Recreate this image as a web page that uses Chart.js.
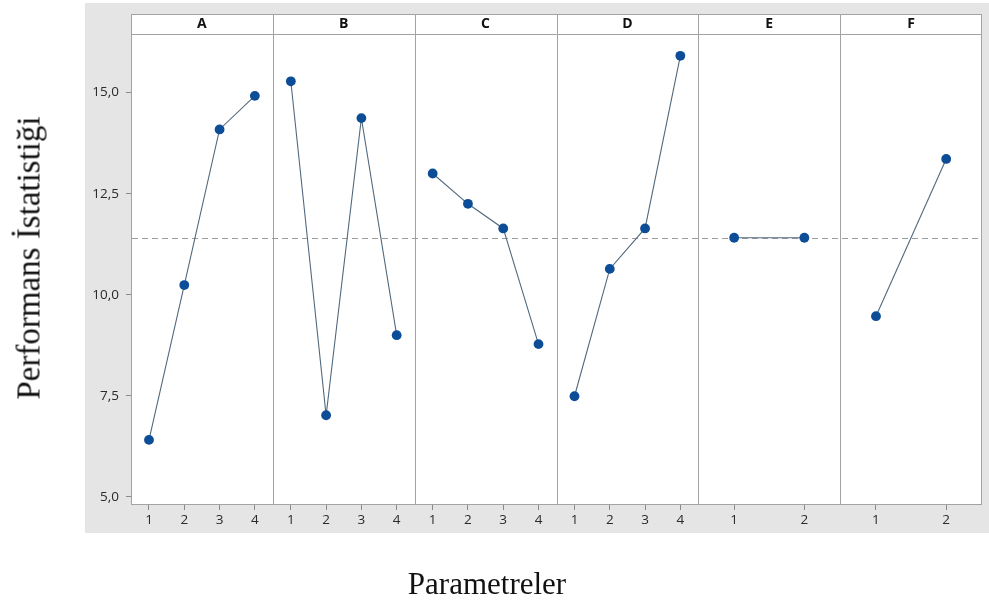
<!DOCTYPE html>
<html>
<head>
<meta charset="utf-8">
<script src="https://cdn.jsdelivr.net/npm/chart.js@4/dist/chart.umd.min.js"></script>
<style>
  html, body { margin: 0; padding: 0; background: #fff; width: 989px; height: 604px; overflow: hidden; }
  #wrap { position: relative; width: 989px; height: 604px; }
  #c { position: absolute; left: 0; top: 0; }
  .title { position: absolute; font-family: "Liberation Serif", "DejaVu Serif", serif; color: #111; white-space: nowrap; line-height: 1; }
  #xTitle { left: 487px; top: 568px; font-size: 31px; transform: translateX(-50%); }
  #yTitle { left: 29px; top: 258px; font-size: 33px; transform: translate(-50%, -50%) rotate(-90deg); }
</style>
</head>
<body>
<div id="wrap">
  <canvas id="c" width="989" height="604"></canvas>
  <div class="title" id="xTitle">Parametreler</div>
  <div class="title" id="yTitle">Performans İstatistiği</div>
</div>
<script>
// Factor names shown in the panel headers
const factors = ['A', 'B', 'C', 'D', 'E', 'F'];

// Factor levels (x positions inside each panel)
const levels4 = [1, 2, 3, 4];
const levels2 = [1, 2];

// Mean performance statistic per level
const meansA = [6.41, 10.24, 14.09, 14.92];
const meansB = [15.28, 7.02, 14.37, 9.00];
const meansC = [13.00, 12.25, 11.64, 8.78];
const meansD = [7.49, 10.64, 11.64, 15.91];
const meansE = [11.41, 11.41];
const meansF = [9.47, 13.36];

// Overall mean (dashed reference line)
const grandMean = 11.41;

// Y axis tick values
const yTicks = [5, 7.5, 10, 12.5, 15];

const panelLevels = [levels4, levels4, levels4, levels4, levels2, levels2];
const panelMeans = [meansA, meansB, meansC, meansD, meansE, meansF];

const tickFont = { family: '"Open Sans", "Noto Sans", sans-serif', size: 13.5 };
const tickColor = '#2a2a2a';
const frameColor = '#a3a3a3';

const datasets = factors.map((f, i) => ({
  label: f,
  xAxisID: 'x' + i,
  yAxisID: 'y',
  data: panelLevels[i].map((lv, j) => ({ x: lv, y: panelMeans[i][j] })),
  borderColor: '#52697d',
  borderWidth: 1.1,
  pointRadius: 4.9,
  pointHoverRadius: 4.9,
  pointBackgroundColor: '#0d4d97',
  pointBorderWidth: 0,
  tension: 0,
  fill: false
}));

const scales = {
  y: {
    type: 'linear',
    position: 'left',
    min: 4.8,
    max: 16.45,
    afterBuildTicks: s => { s.ticks = yTicks.map(v => ({ value: v })); },
    afterFit: s => { s.width = 131; },
    ticks: {
      font: tickFont,
      color: tickColor,
      padding: 7,
      callback: v => v.toFixed(1).replace('.', ',')
    },
    grid: { drawOnChartArea: false, drawTicks: true, tickLength: 5, color: '#8a8a8a' },
    border: { display: false }
  }
};

factors.forEach((f, i) => {
  const lv = panelLevels[i];
  scales['x' + i] = {
    type: 'linear',
    position: 'bottom',
    stack: 'panels',
    stackWeight: 1,
    min: lv[0] - 0.51,
    max: lv[lv.length - 1] + 0.51,
    afterBuildTicks: s => { s.ticks = lv.map(v => ({ value: v })); },
    afterFit: s => { s.height = 99; },
    ticks: {
      font: tickFont,
      color: tickColor,
      padding: 2,
      maxRotation: 0,
      minRotation: 0,
      autoSkip: false,
      callback: v => String(v)
    },
    grid: { drawOnChartArea: false, drawTicks: true, tickLength: 5, color: '#8a8a8a' },
    border: { display: false }
  };
});

// Grey backdrop, white panels, header strip, dividers and the overall-mean line
const panelFrame = {
  id: 'panelFrame',
  beforeDraw(chart) {
    const { ctx, chartArea: a } = chart;
    const headTop = a.top - 20;
    ctx.save();
    ctx.fillStyle = '#fff';
    ctx.fillRect(0, 0, chart.width, chart.height);
    ctx.fillStyle = '#e5e5e5';
    ctx.fillRect(85, 3, chart.width - 85, 530);
    ctx.fillStyle = '#fff';
    ctx.fillRect(a.left, headTop, a.right - a.left, a.bottom - headTop);
    ctx.restore();
  },
  beforeDatasetsDraw(chart) {
    const { ctx, chartArea: a } = chart;
    const headTop = a.top - 20;
    ctx.save();
    ctx.strokeStyle = frameColor;
    ctx.lineWidth = 1;
    // outer frame
    ctx.strokeRect(Math.round(a.left) + 0.5, Math.round(headTop) + 0.5,
      Math.round(a.right - a.left) - 1, Math.round(a.bottom - headTop) - 1);
    // header separator
    ctx.beginPath();
    ctx.moveTo(a.left, Math.round(a.top) + 0.5);
    ctx.lineTo(a.right, Math.round(a.top) + 0.5);
    ctx.stroke();
    // panel dividers and header labels
    ctx.fillStyle = '#111';
    ctx.font = 'bold 14px "Open Sans", "Noto Sans", sans-serif';
    ctx.textAlign = 'center';
    ctx.textBaseline = 'middle';
    factors.forEach((f, i) => {
      const s = chart.scales['x' + i];
      if (i < factors.length - 1) {
        const x = Math.round(s.right) + 0.5;
        ctx.beginPath();
        ctx.moveTo(x, headTop);
        ctx.lineTo(x, a.bottom);
        ctx.stroke();
      }
      ctx.fillText(f, (s.left + s.right) / 2, headTop + 10.5);
    });
    // overall mean
    const ym = Math.round(chart.scales.y.getPixelForValue(grandMean)) + 0.5;
    ctx.strokeStyle = '#9c9c9c';
    ctx.setLineDash([6, 4]);
    ctx.beginPath();
    ctx.moveTo(a.left + 1, ym);
    ctx.lineTo(a.right - 1, ym);
    ctx.stroke();
    ctx.restore();
  }
};

new Chart(document.getElementById('c'), {
  type: 'line',
  data: { datasets },
  options: {
    responsive: false,
    devicePixelRatio: 1,
    animation: false,
    layout: { padding: { top: 34, right: 7, bottom: 0, left: 0 } },
    scales,
    plugins: {
      legend: { display: false },
      tooltip: { enabled: false }
    }
  },
  plugins: [panelFrame]
});
</script>
</body>
</html>
